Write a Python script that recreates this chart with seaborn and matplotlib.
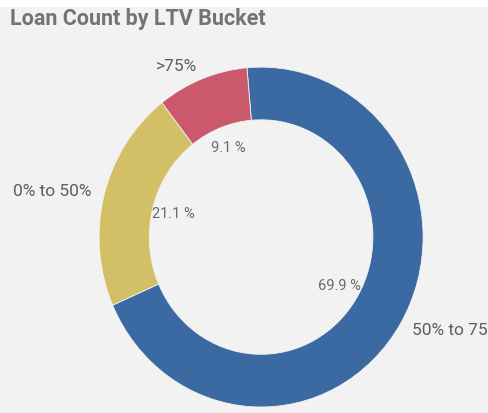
import numpy as np
import matplotlib
matplotlib.use("Agg")
import matplotlib.pyplot as plt
import seaborn as sns

# data
buckets = ["50% to 75%", "0% to 50%", ">75%"]
shares = [69.9, 21.1, 9.1]
colors = ["#3a6aa1", "#d3c066", "#c9596b"]

title = "Loan Count by LTV Bucket"
bg = "#f2f2f2"

sns.set_theme(style="white")
plt.rcParams['font.family'] = ['Roboto', 'DejaVu Sans']

fig = plt.figure(figsize=(4.88, 4.13), dpi=100, facecolor=bg)
# thin white strip along the top edge like the screenshot
fig.patches.append(plt.Rectangle((0, 0.982), 1, 0.02, transform=fig.transFigure,
                                 facecolor="white", edgecolor="none", zorder=0))

ax = fig.add_axes([0.203, 0.0145, 0.664, 0.823])
ax.set_facecolor(bg)

palette = sns.color_palette(colors)
wedges, texts = ax.pie(
    shares,
    labels=buckets,
    colors=palette,
    startangle=95,
    counterclock=False,
    labeldistance=1.08,
    wedgeprops=dict(width=0.31, edgecolor=bg, linewidth=0.6),
    textprops=dict(color="#5e5e5e", fontsize=12.5),
)
ax.set_aspect("auto")
ax.set_xlim(-1, 1)
ax.set_ylim(-1, 1)
ax.axis("off")

for t in texts:
    t.set_clip_on(False)

# percentage labels inside the hole
for w, v in zip(wedges, shares):
    ang = np.deg2rad((w.theta1 + w.theta2) / 2)
    ax.text(0.56 * np.cos(ang), 0.56 * np.sin(ang), f"{v:.1f} %",
            ha="center", va="center", fontsize=10.5, color="#6a6a6a")

fig.text(0.02, 0.953, title, fontsize=15.5, fontweight="bold", color="#737373",
         ha="left", va="center")

fig.savefig("out.png", dpi=100, facecolor=bg)
